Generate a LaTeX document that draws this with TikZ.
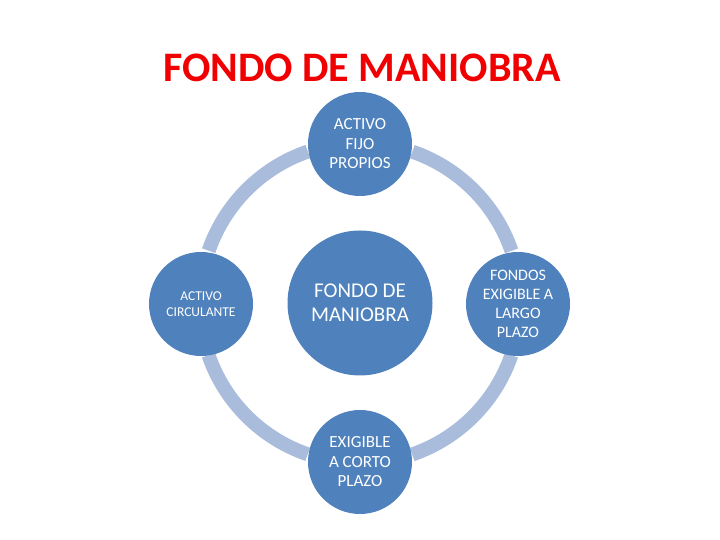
\documentclass[tikz,border=0pt]{standalone}
\usepackage{fontspec}
\setmainfont{Carlito}
\usepackage{xcolor}
\usepackage{tikz}
\usetikzlibrary{calc}
\definecolor{fmblue}{HTML}{4F81BD}
\definecolor{fmring}{HTML}{A9BCDB}
\definecolor{fmred}{HTML}{F00000}
\tikzset{
  fmtitle/.style={text=fmred,font=\bfseries\fontsize{42}{46}\selectfont,inner sep=0pt},
  fmitem/.style={circle,fill=fmblue,text=white,minimum size=104pt,inner sep=0pt,align=center,font=\fontsize{16}{19}\selectfont},
  fmcore/.style={fmitem,minimum size=145pt,font=\fontsize{21}{24}\selectfont},
  fmring/.style={draw=fmring,line width=14pt}
}
\begin{document}
\begin{tikzpicture}[x=1pt,y=1pt]
\useasboundingbox (0,0) rectangle (720,540);
\node[fmtitle] (title) at (362,472) {FONDO DE MANIOBRA};
\node[circle,minimum size=320pt,inner sep=0pt] (hub) at (360,237) {};
\foreach \a [evaluate=\a as \b using int(\a+19), evaluate=\a as \e using int(\a+71)] in {0,90,180,270}{
  \draw[fmring] (hub.\b) arc[start angle=\b, end angle=\e, radius=160pt];}
\node[fmcore] (core) at (360,237) {FONDO DE\\MANIOBRA};
\node[fmitem,font=\fontsize{17}{19.5}\selectfont] (fijo) at (360,396) {ACTIVO\\FIJO\\PROPIOS};
\node[fmitem,font=\fontsize{13.5}{16}\selectfont] (circ) at (201,236) {ACTIVO\\CIRCULANTE};
\node[fmitem] (largo) at (518,236) {FONDOS\\EXIGIBLE A\\LARGO\\PLAZO};
\node[fmitem,font=\fontsize{17}{19.5}\selectfont] (corto) at (360,78) {EXIGIBLE\\A CORTO\\PLAZO};
\end{tikzpicture}
\end{document}
